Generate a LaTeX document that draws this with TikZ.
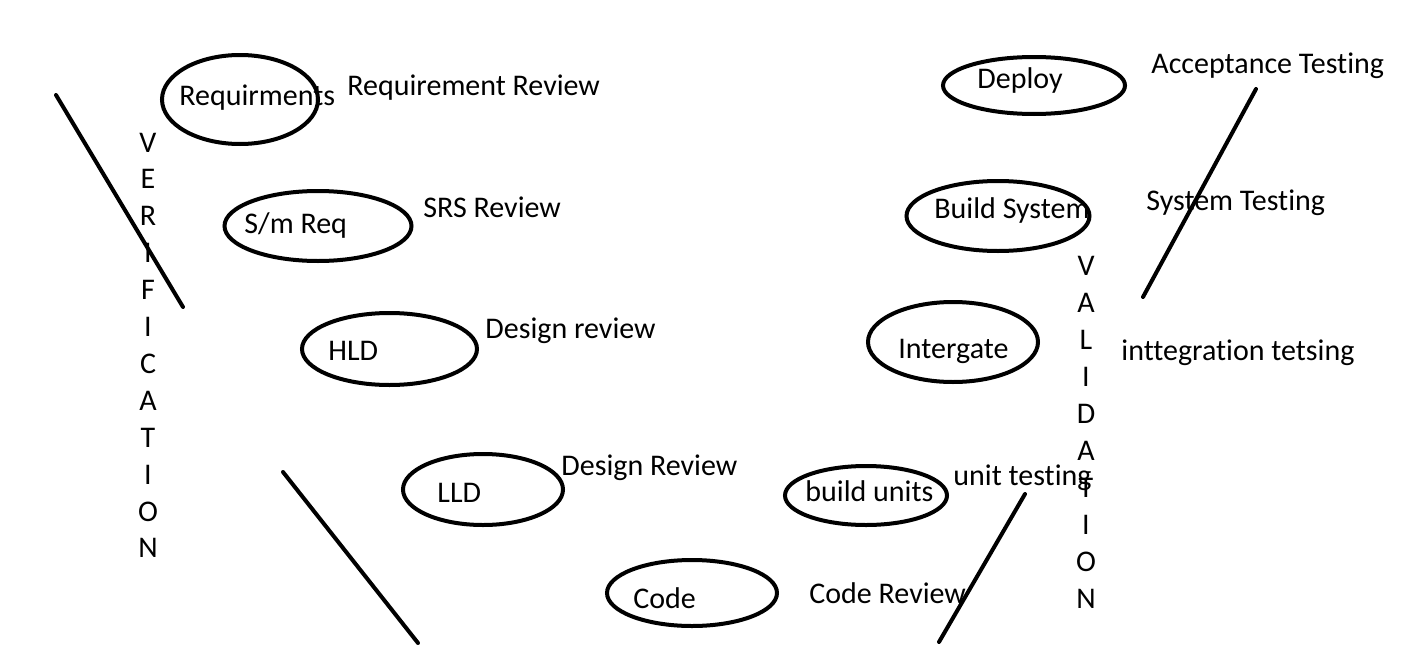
\documentclass[tikz,border=0pt]{standalone}
\usepackage{fontspec}
\setmainfont[Ligatures=NoCommon]{Carlito}
\usetikzlibrary{shapes.geometric}
\begin{document}
\begin{tikzpicture}[x=0.5pt,y=-0.5pt,
  ov/.style={ellipse,draw,line width=2pt,inner sep=0pt},
  lbl/.style={anchor=base west,inner sep=0pt,font=\fontsize{15}{18}\selectfont},
  stroke/.style={line width=2pt,line cap=round}]
\useasboundingbox (0,0) rectangle (1424,648);
% ellipses (left arm)
\node[ov,minimum width=78pt,minimum height=44.5pt] (req) at (240,99.5) {};
\node[ov,minimum width=93.5pt,minimum height=35pt] (srs) at (318,226) {};
\node[ov,minimum width=87.5pt,minimum height=36pt] (hld) at (389.5,349) {};
\node[ov,minimum width=80pt,minimum height=35.5pt] (lld) at (483,489.5) {};
\node[ov,minimum width=85pt,minimum height=33pt] (code) at (692,593) {};
% ellipses (right arm)
\node[ov,minimum width=81pt,minimum height=29.5pt] (bu) at (866,495.5) {};
\node[ov,minimum width=85pt,minimum height=40pt] (int) at (953,342) {};
\node[ov,minimum width=91.5pt,minimum height=35pt] (bs) at (998,216) {};
\node[ov,minimum width=91pt,minimum height=28.5pt] (dep) at (1034,85.5) {};
% texts inside ellipses
\node[lbl] (treq) at (179,105) {Requirments};
\node[lbl] (tsrs) at (244,233) {S/m Req};
\node[lbl] (thld) at (328,360) {HLD};
\node[lbl] (tlld) at (437,502) {LLD};
\node[lbl] (tcode) at (633,608) {Code};
\node[lbl] (tbu) at (805,501) {build units};
\node[lbl] (tint) at (898,358) {Intergate};
\node[lbl] (tbs) at (934,218) {Build System};
\node[lbl] (tdep) at (977,88) {Deploy};
% review / testing labels
\node[lbl] (rr) at (347,95) {Requirement Review};
\node[lbl] (sr) at (423,217) {SRS Review};
\node[lbl] (dr1) at (485,338) {Design review};
\node[lbl] (dr2) at (561,475) {Design Review};
\node[lbl] (cr) at (809,603) {Code Review};
\node[lbl] (ut) at (953,485) {unit testing};
\node[lbl] (it) at (1121,360) {inttegration tetsing};
\node[lbl] (st) at (1146,210) {System Testing};
\node[lbl] (at) at (1151,73) {Acceptance Testing};
% vertical words
\foreach \l [count=\i] in {V,E,R,I,F,I,C,A,T,I,O,N}
  \node[lbl,anchor=base] (ver\i) at (148,{152+36.9*(\i-1)}) {\l};
\foreach \l [count=\i] in {V,A,L,I,D,A,T,I,O,N}
  \node[lbl,anchor=base] (val\i) at (1086,{275+37*(\i-1)}) {\l};
% strokes
\coordinate (l1a) at (56,95);   \coordinate (l1b) at (183,307);
\coordinate (l2a) at (283,472); \coordinate (l2b) at (418,643);
\coordinate (l3a) at (1025,494); \coordinate (l3b) at (939,642);
\coordinate (l4a) at (1256,89); \coordinate (l4b) at (1143,297);
\draw[stroke] (l1a) -- (l1b);
\draw[stroke] (l2a) -- (l2b);
\draw[stroke] (l3a) -- (l3b);
\draw[stroke] (l4a) -- (l4b);
\end{tikzpicture}
\end{document}
